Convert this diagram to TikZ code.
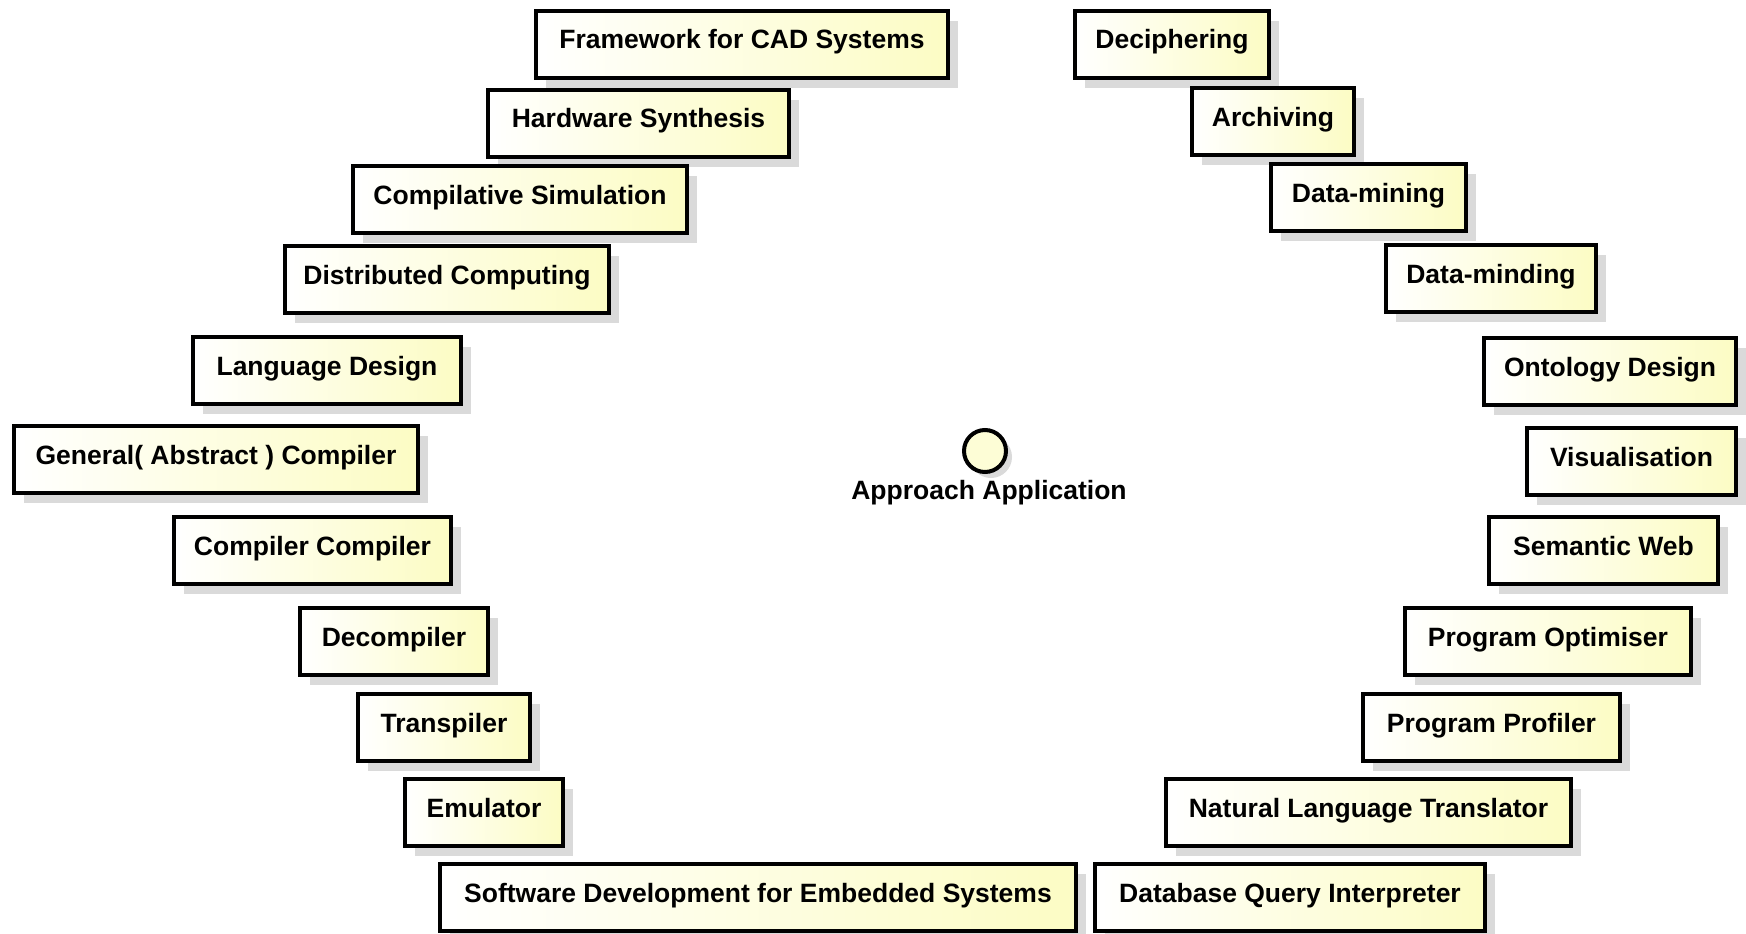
\documentclass[tikz,border=0pt]{standalone}
\usepackage{fontspec}
\setmainfont{Liberation Sans}
\usetikzlibrary{shadows,positioning}
\definecolor{compyellow}{RGB}{252,252,196}
\definecolor{shadowgray}{RGB}{218,218,218}

\begin{document}
\begin{tikzpicture}[
    x=1pt, y=-1pt,
    comp/.style={rectangle, draw=black, line width=4pt, left color=white, right color=compyellow,
        anchor=north west, inner xsep=0pt, inner ysep=19pt, text height=19pt, text depth=10pt,
        font=\fontsize{26.5}{30}\selectfont\bfseries,
        drop shadow={shadow xshift=10pt, shadow yshift=-10pt, fill=shadowgray, opacity=1}},
    iface/.style={circle, draw=black, line width=4pt, fill=compyellow!70, minimum size=42pt, inner sep=0pt,
        drop shadow={shadow xshift=6pt, shadow yshift=-6pt, fill=shadowgray, opacity=1}},
]
\useasboundingbox (0,0) rectangle (1746,934);

% --- Left arc ---
\node[comp, minimum width=412pt] (cad) at (534,9) {Framework for CAD Systems};
\node[comp, minimum width=301pt] (hwsyn) at (486,88) {Hardware Synthesis};
\node[comp, minimum width=334pt] (compsim) at (351,164) {Compilative Simulation};
\node[comp, minimum width=324pt] (distcomp) at (283,244) {Distributed Computing};
\node[comp, minimum width=268pt] (langdes) at (191,335) {Language Design};
\node[comp, minimum width=404pt] (general) at (12,424) {General( Abstract ) Compiler};
\node[comp, minimum width=277pt] (compcomp) at (172,515) {Compiler Compiler};
\node[comp, minimum width=188pt] (decomp) at (298,606) {Decompiler};
\node[comp, minimum width=172pt] (transp) at (356,692) {Transpiler};
\node[comp, minimum width=158pt] (emul) at (403,777) {Emulator};
\node[comp, minimum width=636pt] (embsys) at (438,862) {Software Development for Embedded Systems};

% --- Right arc ---
\node[comp, minimum width=194pt] (deciph) at (1073,9) {Deciphering};
\node[comp, minimum width=162pt] (archiv) at (1190,86) {Archiving};
\node[comp, minimum width=195pt] (dmining) at (1269,162) {Data-mining};
\node[comp, minimum width=210pt] (dminding) at (1384,243) {Data-minding};
\node[comp, minimum width=252pt] (ontology) at (1482,336) {Ontology Design};
\node[comp, minimum width=209pt] (visual) at (1525,426) {Visualisation};
\node[comp, minimum width=229pt] (semweb) at (1487,515) {Semantic Web};
\node[comp, minimum width=286pt] (progopt) at (1403,606) {Program Optimiser};
\node[comp, minimum width=257pt] (progprof) at (1361,692) {Program Profiler};
\node[comp, minimum width=405pt] (natlang) at (1164,777) {Natural Language Translator};
\node[comp, minimum width=390pt] (dbquery) at (1093,862) {Database Query Interpreter};

% --- Centre interface ---
\node[iface] (app) at (985,451) {};
\node[font=\fontsize{26.5}{30}\selectfont\bfseries, anchor=base] (applabel) at (989,499) {Approach Application};

\end{tikzpicture}
\end{document}
